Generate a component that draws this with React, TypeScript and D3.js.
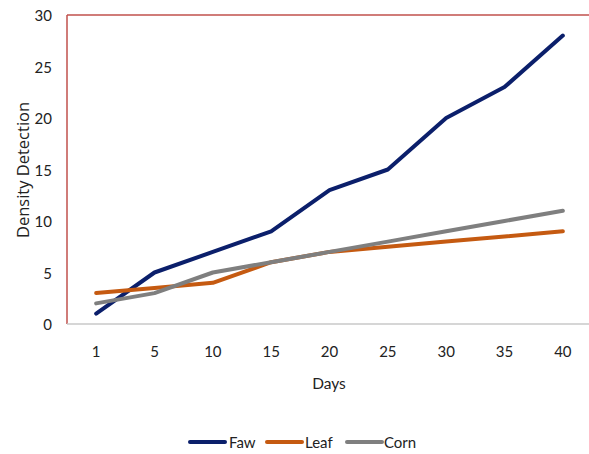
import React from "react";
import * as d3 from "d3";

const days = ["1", "5", "10", "15", "20", "25", "30", "35", "40"];
const faw = [1, 5, 7, 9, 13, 15, 20, 23, 28];
const leaf = [3, 3.5, 4, 6, 7, 7.5, 8, 8.5, 9];
const corn = [2, 3, 5, 6, 7, 8, 9, 10, 11];
const yTicks = [0, 5, 10, 15, 20, 25, 30];

const seriesList = [
  { name: "Faw", values: faw, color: "#0b1f6b" },
  { name: "Leaf", values: leaf, color: "#c55a11" },
  { name: "Corn", values: corn, color: "#7f7f7f" },
];

const W = 589;
const H = 454;
const left = 67;
const right = 592;
const top = 15;
const bottom = 324;
const font = "Lato, 'Open Sans', sans-serif";

export default function App() {
  const x = d3.scaleBand<string>().domain(days).range([left, right]);
  const y = d3.scaleLinear().domain([0, 30]).range([bottom, top]);
  const line = d3
    .line<number>()
    .x((_, i) => (x(days[i]) as number) + x.bandwidth() / 2)
    .y((d) => y(d));

  const legendItems = [
    { x: 190, text: 229 },
    { x: 267, text: 305 },
    { x: 347, text: 384 },
  ];

  return (
    <svg
      width={W}
      height={H}
      style={{ position: "absolute", left: 0, top: 0, background: "#fff" }}
    >
      {/* frame */}
      <line x1={left} x2={W} y1={top} y2={top} stroke="#c0504d" strokeWidth={1.5} />
      <line x1={left} x2={left} y1={top} y2={bottom} stroke="#c0504d" strokeWidth={1.5} />
      <line x1={left} x2={W} y1={bottom} y2={bottom} stroke="#c8c8c8" strokeWidth={1.5} />

      {yTicks.map((t) => (
        <text
          key={t}
          x={52}
          y={y(t)}
          textAnchor="end"
          dominantBaseline="central"
          fontFamily={font}
          fontSize={15}
          fill="#222"
        >
          {t}
        </text>
      ))}
      {days.map((d) => (
        <text
          key={d}
          x={(x(d) as number) + x.bandwidth() / 2}
          y={351}
          textAnchor="middle"
          dominantBaseline="central"
          fontFamily={font}
          fontSize={15}
          fill="#222"
        >
          {d}
        </text>
      ))}

      <text
        transform={`translate(22,170) rotate(-90)`}
        textAnchor="middle"
        dominantBaseline="central"
        fontFamily="'Open Sans', sans-serif"
        fontSize={16.5}
        fill="#222"
      >
        Density Detection
      </text>
      <text
        x={329}
        y={383}
        textAnchor="middle"
        dominantBaseline="central"
        fontFamily={font}
        fontSize={15.5}
        fill="#222"
      >
        Days
      </text>

      {seriesList.map((s) => (
        <path
          key={s.name}
          d={line(s.values) ?? ""}
          fill="none"
          stroke={s.color}
          strokeWidth={4}
          strokeLinejoin="round"
          strokeLinecap="round"
        />
      ))}

      {seriesList.map((s, i) => (
        <g key={s.name}>
          <line
            x1={legendItems[i].x}
            x2={legendItems[i].x + 35}
            y1={442}
            y2={442}
            stroke={s.color}
            strokeWidth={4}
            strokeLinecap="round"
          />
          <text
            x={legendItems[i].text}
            y={442}
            dominantBaseline="central"
            fontFamily={font}
            fontSize={15}
            fill="#222"
          >
            {s.name}
          </text>
        </g>
      ))}
    </svg>
  );
}
